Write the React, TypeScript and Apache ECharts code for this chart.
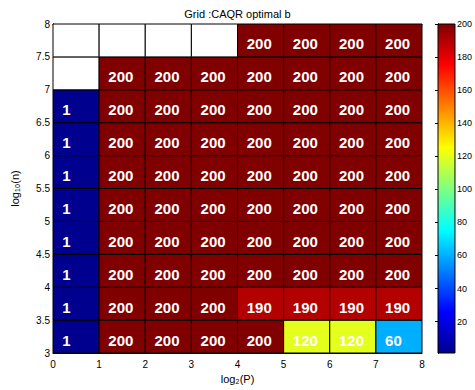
import React, { useEffect, useRef } from "react";
import * as echarts from "echarts";

// Cell lower-left corners (x = log2(P), y = log10(n))
const xCols = [0, 1, 2, 3, 4, 5, 6, 7];
const yRows = [3, 3.5, 4, 4.5, 5, 5.5, 6, 6.5, 7, 7.5];

// optimal b values per row (bottom to top); null = no data (white)
const row3_0 = [1, 200, 200, 200, 200, 120, 120, 60];
const row3_5 = [1, 200, 200, 200, 190, 190, 190, 190];
const row4_0 = [1, 200, 200, 200, 200, 200, 200, 200];
const row4_5 = [1, 200, 200, 200, 200, 200, 200, 200];
const row5_0 = [1, 200, 200, 200, 200, 200, 200, 200];
const row5_5 = [1, 200, 200, 200, 200, 200, 200, 200];
const row6_0 = [1, 200, 200, 200, 200, 200, 200, 200];
const row6_5 = [1, 200, 200, 200, 200, 200, 200, 200];
const row7_0 = [null, 200, 200, 200, 200, 200, 200, 200];
const row7_5 = [null, null, null, null, 200, 200, 200, 200];
const rows = [row3_0, row3_5, row4_0, row4_5, row5_0, row5_5, row6_0, row6_5, row7_0, row7_5];

const colorMin = 1;
const colorMax = 200;
const colorbarTicks = [20, 40, 60, 80, 100, 120, 140, 160, 180, 200];
const jetColors = ["#00008f", "#0000ff", "#0080ff", "#00ffff", "#80ff80", "#ffff00", "#ff8000", "#ff0000", "#800000"];

const cellW = 1;
const cellH = 0.5;

export default function App() {
  const ref = useRef<HTMLDivElement>(null);
  useEffect(() => {
    if (!ref.current) return;
    const chart = echarts.init(ref.current, null, { renderer: "svg" });
    const data: any[] = [];
    rows.forEach((row, i) =>
      row.forEach((v, j) => data.push([xCols[j], yRows[i], v == null ? "-" : v]))
    );
    const font = "Arial, 'Liberation Sans', Helvetica, sans-serif";
    const stops = jetColors
      .slice()
      .reverse()
      .map((c, i, a) => ({ offset: i / (a.length - 1), color: c }));

    chart.setOption({
      animation: false,
      backgroundColor: "#fff",
      textStyle: { fontFamily: font },
      title: {
        text: "Grid :CAQR optimal b",
        left: "center",
        top: 3,
        textStyle: { fontSize: 11, fontWeight: "normal", color: "#000", fontFamily: font },
      },
      grid: [
        { left: 53, top: 24, width: 369, height: 329, containLabel: false },
        { left: 438, top: 24, width: 20, height: 329, containLabel: false },
      ],
      xAxis: [
        {
          type: "value",
          gridIndex: 0,
          min: 0,
          max: 8,
          interval: 1,
          position: "bottom",
          name: "log₂(P)",
          nameLocation: "middle",
          nameGap: 20,
          nameTextStyle: { fontSize: 11, color: "#000", fontFamily: font },
          axisLine: { show: true, lineStyle: { color: "#000", width: 1 } },
          axisTick: { show: false },
          axisLabel: { fontSize: 10, color: "#000", margin: 6, fontFamily: font },
          splitLine: { show: false },
        },
        {
          type: "value",
          gridIndex: 0,
          min: 0,
          max: 8,
          interval: 1,
          position: "top",
          axisLine: { show: true, lineStyle: { color: "#000", width: 1 } },
          axisTick: { show: false },
          axisLabel: { show: false },
          splitLine: { show: false },
        },
        {
          type: "value",
          gridIndex: 1,
          min: 0,
          max: 1,
          show: false,
        },
      ],
      yAxis: [
        {
          type: "value",
          gridIndex: 0,
          min: 3,
          max: 8,
          interval: 0.5,
          position: "left",
          name: "log₁₀(n)",
          nameLocation: "middle",
          nameGap: 33,
          nameTextStyle: { fontSize: 11, color: "#000", fontFamily: font },
          axisLine: { show: true, lineStyle: { color: "#000", width: 1 } },
          axisTick: { show: false },
          axisLabel: { fontSize: 10, color: "#000", margin: 3, fontFamily: font },
          splitLine: { show: false },
        },
        {
          type: "value",
          gridIndex: 0,
          min: 3,
          max: 8,
          interval: 0.5,
          position: "right",
          axisLine: { show: true, lineStyle: { color: "#000", width: 1 } },
          axisTick: { show: false },
          axisLabel: { show: false },
          splitLine: { show: false },
        },
        {
          type: "value",
          gridIndex: 1,
          min: colorMin,
          max: colorMax,
          position: "right",
          axisLine: { show: true, lineStyle: { color: "#000", width: 1 } },
          axisTick: {
            show: true,
            inside: true,
            length: 3,
            lineStyle: { color: "#000" },
            customValues: colorbarTicks,
          },
          axisLabel: {
            fontSize: 9,
            color: "#000",
            margin: 2,
            fontFamily: font,
            customValues: colorbarTicks,
          },
          splitLine: { show: false },
        },
        {
          type: "value",
          gridIndex: 1,
          min: colorMin,
          max: colorMax,
          position: "left",
          axisLine: { show: true, lineStyle: { color: "#000", width: 1 } },
          axisTick: {
            show: true,
            inside: true,
            length: 3,
            lineStyle: { color: "#000" },
            customValues: colorbarTicks,
          },
          axisLabel: { show: false },
          splitLine: { show: false },
        },
      ],
      visualMap: {
        type: "continuous",
        show: false,
        seriesIndex: 0,
        dimension: 2,
        min: colorMin,
        max: colorMax,
        inRange: { color: jetColors },
      },
      series: [
        {
          type: "custom",
          xAxisIndex: 0,
          yAxisIndex: 0,
          data,
          encode: { x: 0, y: 1 },
          z: 3,
          renderItem: (params: any, api: any) => {
            const x = api.value(0);
            const y = api.value(1);
            const v = api.value(2);
            const p0 = api.coord([x, y + cellH]);
            const p1 = api.coord([x + cellW, y]);
            const empty = v == null || isNaN(v);
            const fill = empty ? "#ffffff" : api.visual("color");
            const children: any[] = [
              {
                type: "rect",
                shape: { x: p0[0], y: p0[1], width: p1[0] - p0[0], height: p1[1] - p0[1] },
                style: { fill, stroke: "#000", lineWidth: 1 },
              },
            ];
            if (!empty) {
              const tp = api.coord([x + 0.2, y + cellH / 2]);
              children.push({
                type: "text",
                x: tp[0],
                y: tp[1] + 3.5,
                style: {
                  text: String(v),
                  fill: "#fff",
                  font: `bold 15px ${font}`,
                  align: "left",
                  verticalAlign: "middle",
                },
              });
            }
            return { type: "group", children };
          },
        },
        {
          type: "custom",
          xAxisIndex: 2,
          yAxisIndex: 2,
          data: [[0, colorMin, colorMax]],
          z: 1,
          renderItem: (params: any, api: any) => {
            const p0 = api.coord([0, api.value(2)]);
            const p1 = api.coord([1, api.value(1)]);
            return {
              type: "rect",
              shape: { x: p0[0], y: p0[1], width: p1[0] - p0[0], height: p1[1] - p0[1] },
              style: {
                fill: new echarts.graphic.LinearGradient(0, 0, 0, 1, stops),
                stroke: "#000",
                lineWidth: 1,
              },
            };
          },
        },
      ],
    });
    return () => chart.dispose();
  }, []);
  return (
    <div
      ref={ref}
      style={{ position: "fixed", left: 0, top: 0, width: 475, height: 390, background: "#fff" }}
    />
  );
}
